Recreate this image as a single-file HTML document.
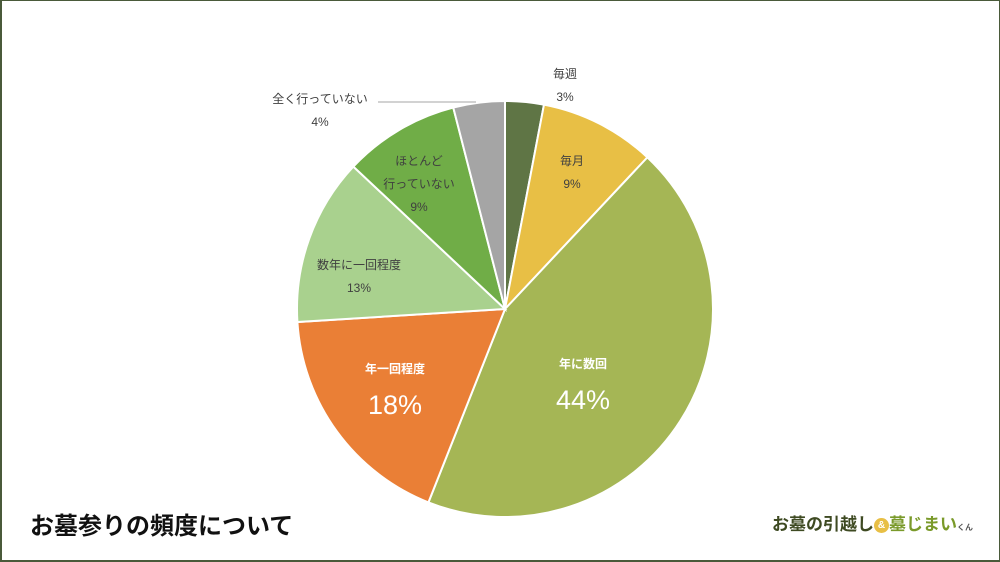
<!DOCTYPE html>
<html><head><meta charset="utf-8"><style>
body{margin:0;width:1000px;height:562px;overflow:hidden;background:#fff;font-family:"Liberation Sans","Noto Sans CJK JP",sans-serif}
#frame{position:absolute;left:0;top:0;border:1px solid #4a5a3a;border-left:2px solid #4a5a3a;border-bottom:2px solid #4a5a3a;box-sizing:border-box;width:1000px;height:562px}
</style></head><body>
<div id="frame"></div>
<svg id="chart" width="1000" height="562" style="position:absolute;left:0;top:0"></svg>
<div style="position:absolute;left:30px;top:506px;font-size:24px;font-weight:bold;color:#111">お墓参りの頻度について</div>
<div style="position:absolute;left:772px;top:510px;font-size:17px;font-weight:bold;color:#3e4a22;white-space:nowrap">お墓の引越し<span style="display:inline-block;width:15px;height:15px;border-radius:8px;background:#e8bf45;color:#fff;font-size:10px;text-align:center;line-height:15px;vertical-align:2px">&amp;</span><span style="color:#7a9a2a">墓じまい</span><span style="font-size:8px;color:#555">くん</span></div>
<script>
const categories=["毎週","毎月","年に数回","年一回程度","数年に一回程度","ほとんど行っていない","全く行っていない"];
const values=[3,9,44,18,13,9,4];
const colors=["#5f7545","#e8bf45","#a5b655","#ea7f36","#a9d18e","#70ad47","#a5a5a5"];
const labelLines=[["毎週"],["毎月"],["年に数回"],["年一回程度"],["数年に一回程度"],["ほとんど","行っていない"],["全く行っていない"]];
const svg=document.getElementById('chart');
const NS='http://www.w3.org/2000/svg';
const cx=505,cy=309,r=208;
const total=values.reduce((a,b)=>a+b,0);
function pt(a,rr){return [cx+rr*Math.sin(a),cy-rr*Math.cos(a)];}
let acc=0;
const labelPos=[[565,73],[572,160],[583,363],[395,368],[359,264],[419,160],[320,98]];
values.forEach((v,i)=>{
  const a0=acc/total*2*Math.PI; acc+=v; const a1=acc/total*2*Math.PI;
  const p0=pt(a0,r),p1=pt(a1,r);
  const path=document.createElementNS(NS,'path');
  path.setAttribute('d',`M${cx},${cy}L${p0[0]},${p0[1]}A${r},${r} 0 ${a1-a0>Math.PI?1:0} 1 ${p1[0]},${p1[1]}Z`);
  path.setAttribute('fill',colors[i]);path.setAttribute('stroke','#fff');path.setAttribute('stroke-width','2');
  
  
  svg.appendChild(path);
  const big=v>=15;
  const [lx,ly]=labelPos[i];
  const lines=labelLines[i].concat([v+'%']);
  lines.forEach((t,j)=>{
    const tx=document.createElementNS(NS,'text');
    const isPct=j===lines.length-1;
    tx.setAttribute('x',lx);
    tx.setAttribute('y',ly+5+(big&&isPct?j*37+4:j*23));
    tx.setAttribute('text-anchor','middle');
    tx.setAttribute('font-size',big&&isPct?27:12);
    tx.setAttribute('fill',big?'#fff':'#404040');
    if(big&&!isPct)tx.setAttribute('font-weight','bold');
    tx.textContent=t;
    
    
    svg.appendChild(tx);
  });
});
const ln=document.createElementNS(NS,'polyline');
ln.setAttribute('points','378,102 476,102');
ln.setAttribute('stroke','#a6a6a6');ln.setAttribute('fill','none');


svg.appendChild(ln);
</script>
</body></html>
